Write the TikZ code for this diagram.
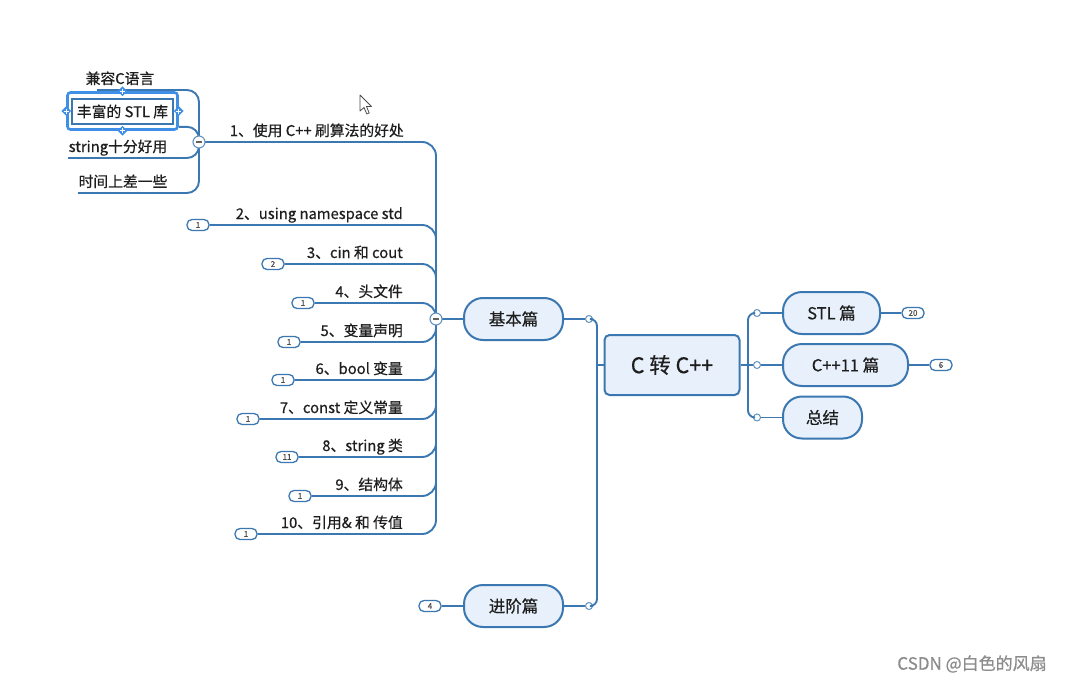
\documentclass[tikz,border=0pt]{standalone}
\usepackage{fontspec}
\setmainfont{Noto Sans CJK SC}[FakeBold=0.5]
\usetikzlibrary{shapes.geometric}
\definecolor{lblue}{HTML}{3B77B0}
\definecolor{nfill}{HTML}{E8F1FB}
\definecolor{selblue}{HTML}{3F8FE6}
\definecolor{txt}{HTML}{1E1E1E}
\tikzset{
  conn/.style={draw=lblue, line width=1.9pt},
  topic/.style={rectangle, rounded corners=19pt, draw=lblue, line width=2pt, fill=nfill,
    minimum height=42pt, inner sep=0pt, text=txt, font=\fontsize{16.5}{16.5}\selectfont},
  rootbox/.style={rectangle, rounded corners=5pt, draw=lblue, line width=2pt, fill=nfill,
    minimum width=135pt, minimum height=60pt, inner sep=0pt, text=txt, font=\fontsize{21.5}{21.5}\selectfont},
  lab/.style={inner sep=0pt, text=txt, font=\fontsize{14.8}{14.8}\selectfont},
  bub/.style={rectangle, rounded corners=5pt, draw=lblue, line width=1.3pt, fill=white,
    minimum width=22pt, minimum height=11pt, inner sep=0pt, text=txt!80, font=\fontsize{8}{8}\selectfont},
  dot/.style={circle, draw=lblue!80, line width=1pt, fill=white, minimum size=7pt, inner sep=0pt},
  fold/.style={circle, draw=lblue!80, line width=1.1pt, fill=white, minimum size=12pt, inner sep=0pt,
    path picture={\draw[line width=1.1pt, draw=txt!70]
      ([xshift=-3pt]path picture bounding box.center) -- ([xshift=3pt]path picture bounding box.center);}},
  handle/.style={diamond, fill=selblue, minimum size=10pt, inner sep=0pt,
    path picture={\draw[white, line width=1pt]
      ([xshift=-2.5pt]path picture bounding box.center) -- ([xshift=2.5pt]path picture bounding box.center)
      ([yshift=-2.5pt]path picture bounding box.center) -- ([yshift=2.5pt]path picture bounding box.center);}}
}
\begin{document}
\begin{tikzpicture}[x=1pt,y=-1pt]
\useasboundingbox[fill=white] (0,0) rectangle (1071,685);

% ---------- central and main topics ----------
\node[rootbox] (root) at (672,365) {C 转 C++};
\node[topic, minimum width=99pt] (basic) at (513.5,319) {基本篇};
\node[topic, minimum width=99pt] (adv) at (513.5,606) {进阶篇};
\node[topic, minimum width=97pt] (stl) at (831.5,313) {STL 篇};
\node[topic, minimum width=125pt] (cpp) at (845.5,365) {C++11 篇};
\node[topic, minimum width=79pt] (sum) at (822.5,417.5) {总结};

\coordinate (jl) at (597,365);
\coordinate (jr) at (748,365);
\node[dot] (cb) at (589,319) {};
\node[dot] (ca) at (589,606) {};
\node[dot] (c1) at (757,313) {};
\node[dot] (c2) at (757,365) {};
\node[dot] (c3) at (757,417.5) {};

\draw[conn] (basic.east) -- (cb.west);
\draw[conn, rounded corners=7pt] (cb.east) -| (jl) |- (ca.east);
\draw[conn] (jl) -- (root.west);
\draw[conn] (ca.west) -- (adv.east);

\draw[conn] (root.east) -- (jr);
\draw[conn, rounded corners=7pt] (c1.west) -| (jr) |- (c3.west);
\draw[conn] (jr) -- (c2.west);
\draw[conn] (c1.east) -- (stl.west);
\draw[conn] (c2.east) -- (cpp.west);
\draw[conn] (c3.east) -- (sum.west);

\node[bub] (n20) at (913,313) {20};
\node[bub] (n6) at (941,365) {6};
\node[bub] (n4) at (430,606) {4};
\draw[conn] (stl.east) -- (n20.west);
\draw[conn] (cpp.east) -- (n6.west);
\draw[conn] (n4.east) -- (adv.west);

% ---------- left branches ----------
\coordinate (mbc) at (436,319);
\coordinate (m1c) at (199,142);
\draw[conn] (basic.west) -- (mbc);

\foreach \i/\y/\bx/\num/\lab in {
  2/225/198/1/{2、using namespace std},
  3/264/273/2/{3、cin 和 cout},
  4/303/303/1/{4、头文件},
  5/342/289/1/{5、变量声明},
  6/380/283/1/{6、bool 变量},
  7/419/248/1/{7、const 定义常量},
  8/457/287/11/{8、string 类},
  9/496/300/1/{9、结构体},
  10/534/246/1/{10、引用\& 和 传值}}{
  \node[bub] (b\i) at (\bx,\y) {\num};
  \node[lab, anchor=base east] (t\i) at (403,\y-6) {\lab};
  \draw[conn, rounded corners=14pt] (b\i.east) -- (b\i.east -| mbc) -- (mbc);
}

\node[lab, anchor=base east] (t1) at (404,136) {1、使用 C++ 刷算法的好处};
\draw[conn, rounded corners=14pt] (m1c) -- (m1c -| mbc) -- (mbc);

% ---------- sub-branches of branch 1 ----------
\coordinate (s1) at (97,90);
\coordinate (s3) at (68,158);
\coordinate (s4) at (78,193);
\node[lab, anchor=base] (u1) at (120,84) {兼容C语言};
\node[lab, anchor=base] (u3) at (118,152) {string十分好用};
\node[lab, anchor=base] (u4) at (123,187) {时间上差一些};

\draw[conn, rounded corners=12pt] (s1) -- (s1 -| m1c) -- (m1c);
\draw[conn, rounded corners=12pt] (s3) -- (s3 -| m1c) -- (m1c);
\draw[conn, rounded corners=12pt] (s4) -- (s4 -| m1c) -- (m1c);

% selected topic
\node[rectangle, draw=selblue, line width=2.6pt, fill=white, rounded corners=3pt,
  minimum width=110pt, minimum height=37pt, inner sep=0pt] (selframe) at (122.5,111) {};
\node[rectangle, draw=lblue, line width=1.5pt, fill=white, minimum width=101pt, minimum height=25pt,
  inner sep=0pt, text=txt, font=\fontsize{14.8}{14.8}\selectfont] (sel) at (122.5,111.5) {丰富的 STL 库};
\draw[conn, rounded corners=12pt] ([yshift=4pt]selframe.south east) -- ([yshift=4pt]selframe.south east -| m1c) -- (m1c);
\node[handle] (h1) at (selframe.north) {};
\node[handle] (h2) at (selframe.south) {};
\node[handle] (h3) at (selframe.west) {};
\node[handle] (h4) at (selframe.east) {};

% fold markers on top
\node[fold] (mb) at (mbc) {};
\node[fold] (m1) at (m1c) {};

% mouse cursor
\draw[line width=0.8pt, draw=black!70, fill=white, line join=round]
  (360,95) -- (360,111) -- (364,107.5) -- (366.8,114) -- (369.2,113) -- (366.5,106.5) -- (371.5,106.5) -- cycle;

% watermark
\node[text=black!45, font=\fontsize{17}{17}\selectfont] (wm) at (972,664) {CSDN @白色的风扇};
\end{tikzpicture}
\end{document}
